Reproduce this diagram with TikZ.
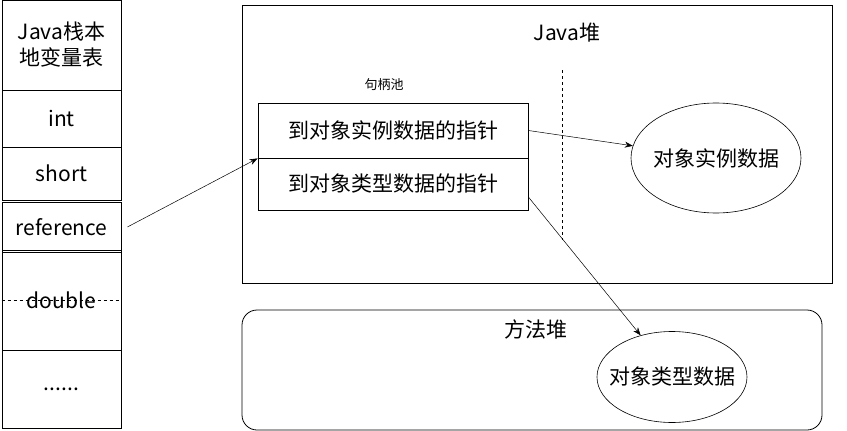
\documentclass[tikz,border=0pt]{standalone}
\usepackage{fontspec}
\setmainfont{Noto Sans CJK SC}
\usepackage{tikz}
\usetikzlibrary{
  arrows.meta,
  shapes,
}

\begin{document}
\begin{tikzpicture}[x=1pt,y=-1pt]
	\tikzstyle{every node}=[font=\fontsize{21}{26}\selectfont]
	\tikzstyle{cell}=[draw, rectangle, line width=0.8pt, inner sep=0pt, minimum width=119pt]
	\tikzstyle{pointer}=[draw, rectangle, line width=0.8pt, inner sep=0pt, minimum width=270pt]
	\tikzstyle{blob}=[draw, ellipse, line width=0.6pt, inner xsep=-12pt, inner ysep=0pt]
	\tikzstyle{link}=[-{Stealth[length=8pt,width=6pt]}, line width=0.5pt]
	\useasboundingbox (0,0) rectangle (847,431);
	% local variable table
	\node (title)[cell, minimum height=90pt, align=center] at (61.5,45) {Java栈本\\地变量表};
	\node (int)[cell, minimum height=57pt] at (61.5,118.5) {int};
	\node (short)[cell, minimum height=53pt] at (61.5,173.5) {short};
	\node (ref)[cell, minimum height=50pt] at (61.5,227) {reference};
	\node (double)[cell, minimum height=100pt] at (61.5,300) {double};
	\draw [dashed, line width=0.5pt] (double.west) -- (double.east);
	\node (dots)[cell, minimum height=78pt] at (61.5,389) {......};
	% java heap
	\node (heap)[draw, rectangle, line width=0.8pt, minimum width=590pt, minimum height=278pt] at (537,144) {};
	\node (heaplabel) at (567,33) {Java堆};
	\node (pool)[font=\fontsize{13}{16}\selectfont] at (384,85) {句柄池};
	\node (hinst)[pointer, minimum height=55pt] at (393,130.5) {到对象实例数据的指针};
	\node (htype)[pointer, minimum height=52pt] at (393,184) {到对象类型数据的指针};
	\coordinate (cuttop) at (562,70);
	\coordinate (cutbot) at (562,240);
	\draw [dashed, line width=0.5pt] (cuttop) -- (cutbot);
	\node (inst)[blob, minimum width=170pt, minimum height=110pt] at (716,158) {对象实例数据};
	% method area
	\node (method)[draw, rectangle, rounded corners=15pt, line width=0.8pt, minimum width=580pt, minimum height=120pt] at (532,370) {};
	\node (methodlabel) at (536,329) {方法堆};
	\node (type)[blob, minimum width=150pt, minimum height=91pt] at (672,377) {对象类型数据};
	% arrows
	\draw [link] ([xshift=6pt]ref.east) -- (hinst.south west);
	\draw [link] (hinst.east) -- (inst);
	\draw [link] ([yshift=-13pt]htype.east) -- (type.127);
\end{tikzpicture}
\end{document}
